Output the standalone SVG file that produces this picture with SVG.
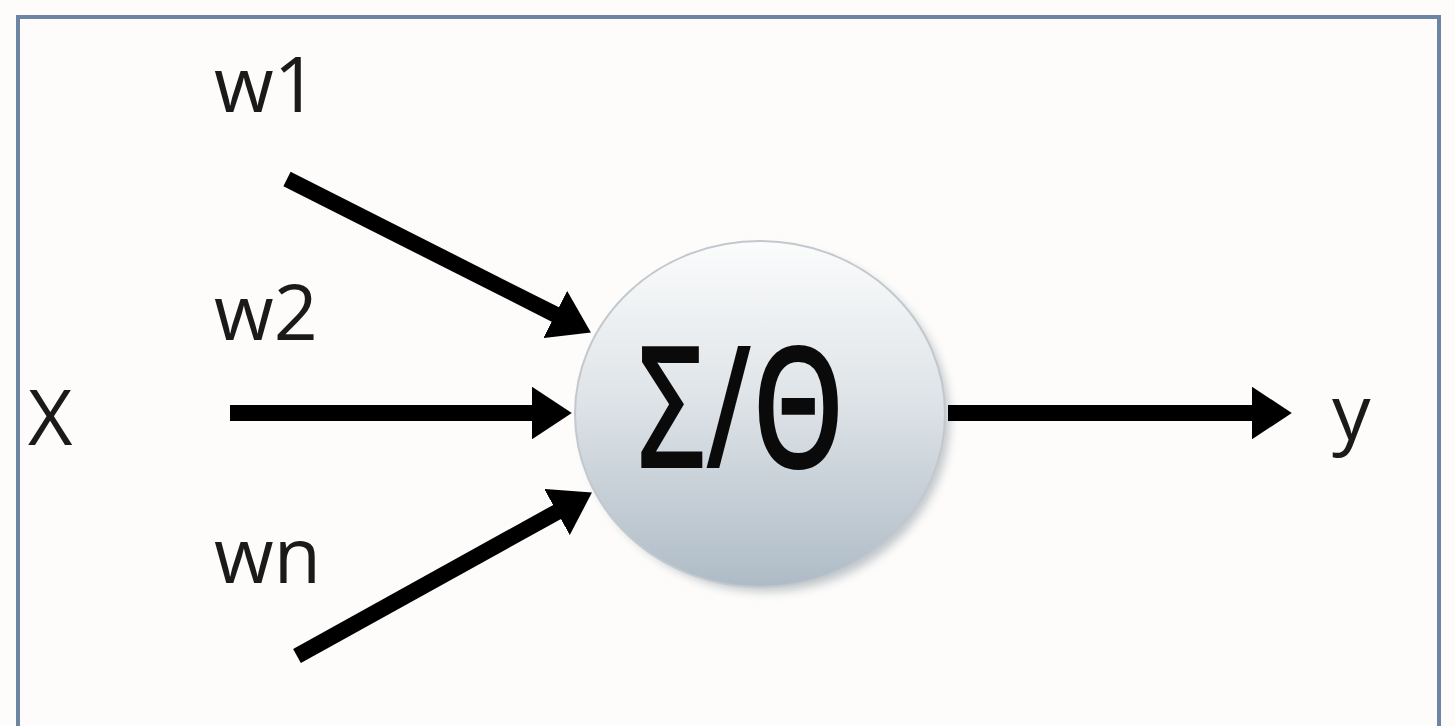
<svg xmlns="http://www.w3.org/2000/svg" width="1455" height="726" viewBox="0 0 1455 726">
  <style>
    .lbl { font-family: "Open Sans", "Noto Sans", sans-serif; font-size: 77px; fill: #1a1a1a; }
    .sym { font-family: "Open Sans", "Noto Sans", sans-serif; font-size: 170px; font-weight: 600; fill: #0a0a0a; }
    .wire { stroke: #000; stroke-width: 16; fill: none; marker-end: url(#head); }
  </style>
  <defs>
    <!-- head starts where the shaft stops: 40px long, 53px wide -->
    <marker id="head" viewBox="0 0 10 10" refX="0.3" refY="5" markerWidth="2.5" markerHeight="3.3" markerUnits="strokeWidth" orient="auto" preserveAspectRatio="none">
      <path d="M0,0 L10,5 L0,10 z" fill="#000"/>
    </marker>
    <linearGradient id="bodyFill" x1="0" y1="0" x2="0" y2="1">
      <stop offset="0" stop-color="#fbfcfc"/>
      <stop offset="0.45" stop-color="#dfe4e8"/>
      <stop offset="1" stop-color="#aebbc6"/>
    </linearGradient>
    <filter id="shadow" x="-20%" y="-20%" width="140%" height="140%">
      <feGaussianBlur stdDeviation="5"/>
    </filter>
  </defs>

  <rect x="0" y="0" width="1455" height="726" fill="#fdfcfb"/>
  <!-- frame -->
  <path d="M18,740 L18,17 L1439,17 L1439,740" fill="none" stroke="#6b85a2" stroke-width="4"/>

  <g id="neuron">
    <ellipse cx="766" cy="420" rx="184" ry="172" fill="#8a949c" opacity="0.5" filter="url(#shadow)"/>
    <ellipse cx="760" cy="414" rx="185" ry="173" fill="url(#bodyFill)" stroke="#c2c8cd" stroke-width="2"/>
    <text class="sym" x="741" y="468" text-anchor="middle" textLength="208" lengthAdjust="spacingAndGlyphs">Σ/Θ</text>
  </g>

  <g id="connectors">
    <line class="wire" x1="287" y1="179" x2="556.3" y2="315"/>
    <line class="wire" x1="230" y1="413" x2="533" y2="413"/>
    <line class="wire" x1="297" y1="656" x2="558" y2="511.4"/>
    <line class="wire" x1="948" y1="413" x2="1253" y2="413"/>
  </g>

  <g id="label-w1"><text class="lbl" x="214" y="112">w1</text></g>
  <g id="label-w2"><text class="lbl" x="214" y="340">w2</text></g>
  <g id="label-x"><text class="lbl" x="28" y="445">X</text></g>
  <g id="label-wn"><text class="lbl" x="214" y="583">wn</text></g>
  <g id="label-y"><text class="lbl" x="1332" y="440">y</text></g>
</svg>
